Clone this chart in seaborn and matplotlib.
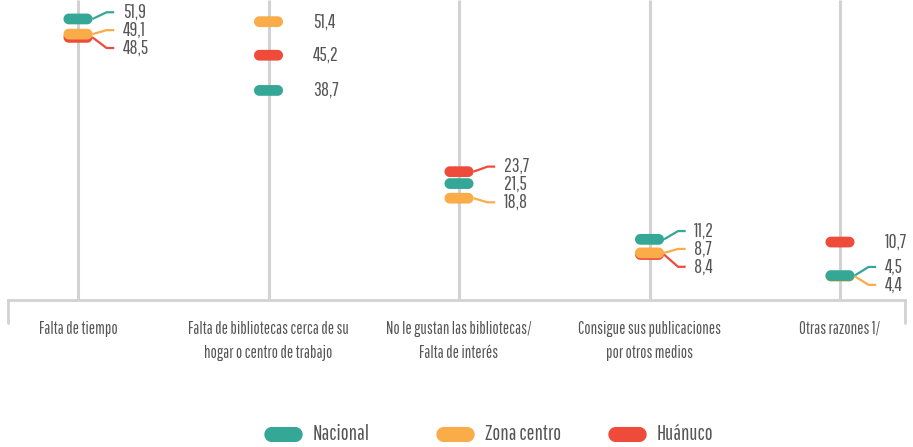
import numpy as np
import pandas as pd
import matplotlib
matplotlib.use("Agg")
import matplotlib.pyplot as plt
import seaborn as sns
from matplotlib.path import Path
from matplotlib.lines import Line2D

# data
categorias = ["Falta de tiempo",
              "Falta de bibliotecas cerca de su\nhogar o centro de trabajo",
              "No le gustan las bibliotecas/\nFalta de interés",
              "Consigue sus publicaciones\npor otros medios",
              "Otras razones 1/"]
series = ["Nacional", "Zona centro", "Huánuco"]
nacional = [51.9, 38.7, 21.5, 11.2, 4.5]
zona_centro = [49.1, 51.4, 18.8, 8.7, 4.4]
huanuco = [48.5, 45.2, 23.7, 8.4, 10.7]
colores = ["#34a796", "#f9ac48", "#ef4b3b"]

GRIS = "#d2d2d2"
TEXTO = "#555555"

sns.set_style("white")
plt.rcParams["font.family"] = ["Pathway Gothic One", "DejaVu Sans"]


def pill_path(ratio=2.7, n=20):
    # horizontal rounded bar used as marker
    a = (ratio - 1) / 2.0
    t1 = np.linspace(-np.pi / 2, np.pi / 2, n)
    t2 = np.linspace(np.pi / 2, 3 * np.pi / 2, n)
    right = np.c_[a + 0.5 * np.cos(t1), 0.5 * np.sin(t1)]
    left = np.c_[-a + 0.5 * np.cos(t2), 0.5 * np.sin(t2)]
    verts = np.vstack([right, left, right[:1]])
    codes = [Path.MOVETO] + [Path.LINETO] * (len(verts) - 2) + [Path.CLOSEPOLY]
    return Path(verts, codes)


pill = pill_path()

rows = []
for serie, vals in zip(series, [nacional, zona_centro, huanuco]):
    for i, v in enumerate(vals):
        rows.append({"pos": i, "valor": v, "serie": serie})
df = pd.DataFrame(rows).sort_values("valor")

fig = plt.figure(figsize=(9.13, 4.47), dpi=100)
ax = fig.add_axes([8 / 913, 147 / 447, 897 / 913, 300 / 447])
ax.set_xlim(-70 / 190.5, 4 + 65 / 190.5)
ax.set_ylim(0, 55.4)

ax.vlines(range(len(categorias)), 0, 55.4, color=GRIS, lw=2.2, zorder=1)

sns.scatterplot(data=df, x="pos", y="valor", hue="serie", hue_order=series,
                palette=colores, marker=pill, s=436, linewidth=0,
                legend=False, ax=ax, zorder=3)

# value labels, spread apart where they collide
gap = 3.3
for i in range(len(categorias)):
    vals = [(s, v, c) for s, v, c in zip(series, [nacional[i], zona_centro[i], huanuco[i]], colores)]
    vals.sort(key=lambda t: -t[1])
    ys = [v for _, v, _ in vals]
    for _ in range(60):
        for k in range(len(ys) - 1):
            d = ys[k] - ys[k + 1]
            if d < gap:
                push = (gap - d) / 2
                ys[k] += push
                ys[k + 1] -= push
    for (s, v, c), yl in zip(vals, ys):
        if abs(yl - v) > 0.3:
            ax.plot([i + 0.076, i + 0.15, i + 0.19], [v, yl, yl], color=c, lw=1.6,
                    zorder=2, solid_capstyle="butt")
        ax.text(i + 0.235, yl, f"{v:.1f}".replace(".", ","), fontsize=14,
                color=TEXTO, va="center", ha="left")

# axis styling
for side in ["top", "left", "right"]:
    ax.spines[side].set_visible(False)
ax.spines["bottom"].set_color(GRIS)
ax.spines["bottom"].set_linewidth(2)
ax.set_yticks([])
ax.set_xticks(range(len(categorias)))
ax.set_xticklabels(categorias, fontsize=12, color=TEXTO, linespacing=1.6)
ax.tick_params(axis="x", length=0, pad=15)
ax.set_xlabel("")
ax.set_ylabel("")
for xe in [0, 1]:
    ax.plot([xe, xe], [0, -0.075], transform=ax.transAxes, color=GRIS, lw=2,
            clip_on=False)

# legend
for k, (s, c) in enumerate(zip(series, colores)):
    xc = (283 + k * 172) / 913
    yc = (447 - 434) / 447
    fig.add_artist(Line2D([xc], [yc], transform=fig.transFigure, marker=pill,
                          markersize=26.6, color=c, linestyle=""))
    fig.text(xc + 30 / 913, yc, s, fontsize=15, color=TEXTO, va="center", ha="left")

fig.savefig("out.png", dpi=100)
